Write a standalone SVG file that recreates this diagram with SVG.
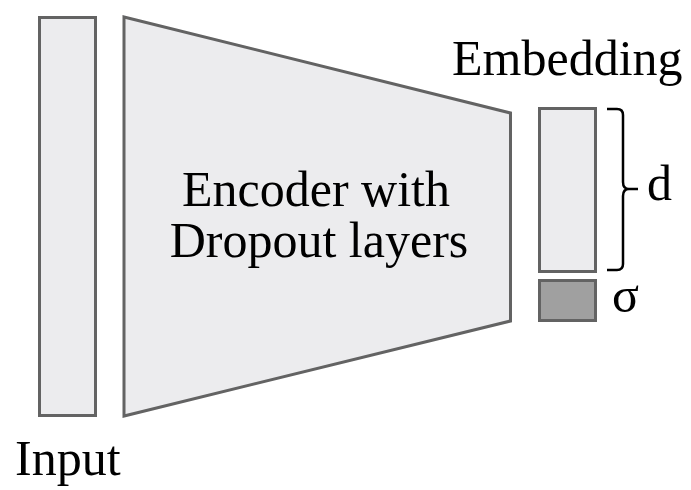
<svg xmlns="http://www.w3.org/2000/svg" width="691" height="490" viewBox="0 0 691 490">
<style>
.box{fill:#ececee;stroke:#636363;stroke-width:3;stroke-linejoin:miter}
.sig{fill:#a0a0a0;stroke:#636363;stroke-width:3}
text{font-family:'Liberation Serif','Times New Roman',serif;font-size:50px;fill:#000}
.br{fill:none;stroke:#000;stroke-width:2.5}
</style>
<rect width="691" height="490" fill="#fff"/>
<g id="input">
<rect class="box" x="39.5" y="17.5" width="56" height="398"/>
<text x="15" y="475">Input</text>
</g>
<g id="encoder">
<polygon class="box" points="124,17 510.5,113 510.5,321 124,416"/>
<text x="316" y="206" text-anchor="middle">Encoder with</text>
<text x="319" y="257" text-anchor="middle">Dropout layers</text>
</g>
<g id="embedding">
<rect class="box" x="539.5" y="108.5" width="56" height="163"/>
<text x="452" y="75">Embedding</text>
</g>
<g id="sigma">
<rect class="sig" x="539.5" y="280.5" width="56" height="40"/>
<text x="612" y="312">σ</text>
</g>
<g id="connectors">
<path class="br" d="M607,109 L617,109 Q623,109 623,115 L623,182 Q623,189 629,189 L638,189 M629,189 Q623,189 623,196 L623,264 Q623,270 617,270 L607,270"/>
<text x="647" y="200">d</text>
</g>
</svg>
